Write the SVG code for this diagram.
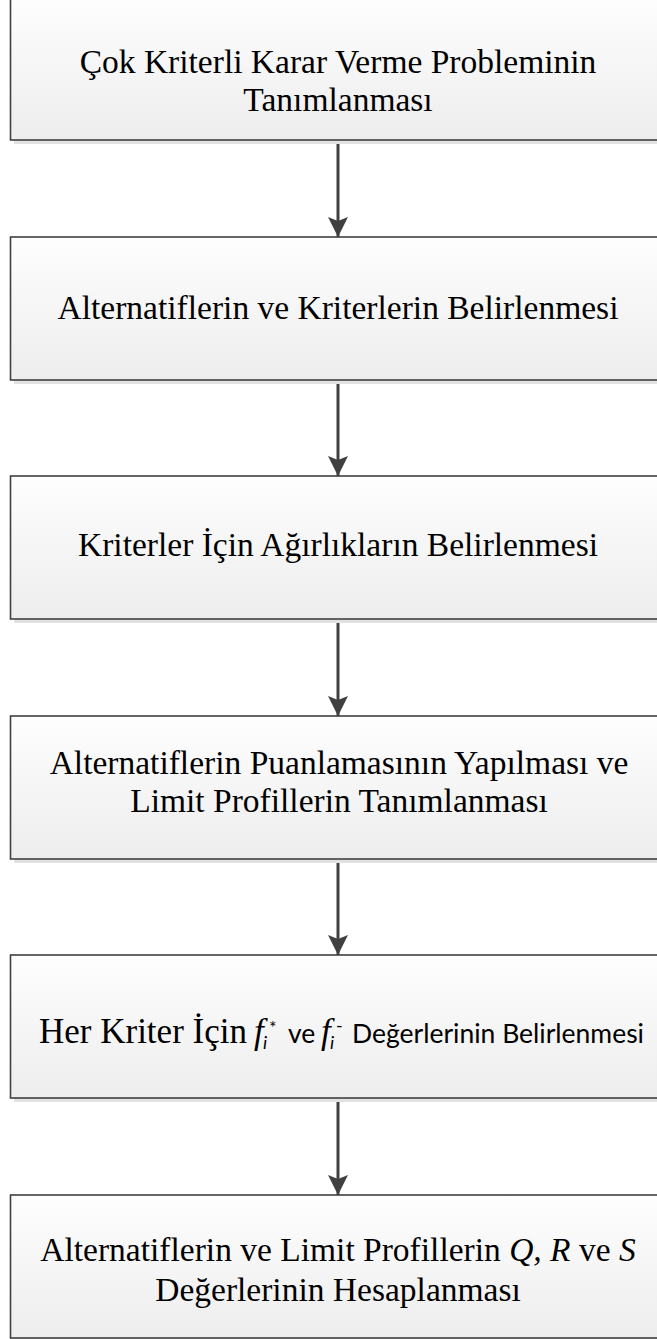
<svg xmlns="http://www.w3.org/2000/svg" width="657" height="1339" viewBox="0 0 657 1339">
<style>
.box{fill:url(#g);stroke:#404040;stroke-width:1.6}
.sh{fill:#e2e2e2}
.t{font-family:"Liberation Serif","Times New Roman",serif;font-size:33.5px;fill:#000;text-anchor:middle}
.s{font-family:"Lato","Liberation Sans",sans-serif;fill:#000}
.c{stroke:#404040;stroke-width:3;fill:none;marker-end:url(#ah)}
</style>
<defs>
<linearGradient id="g" x1="0" y1="0" x2="0" y2="1">
<stop offset="0" stop-color="#fefefe"/>
<stop offset="1" stop-color="#ededed"/>
</linearGradient>
<marker id="ah" markerUnits="userSpaceOnUse" viewBox="0 0 20 20" refX="20" refY="10" markerWidth="20" markerHeight="20" orient="auto">
<path d="M0,0 L20,10 L0,20 L4,10 Z" fill="#404040"/>
</marker>
</defs>
<g id="connectors">
<line class="c" x1="338" y1="141" x2="338" y2="237"/>
<line class="c" x1="338" y1="381" x2="338" y2="476"/>
<line class="c" x1="338" y1="620" x2="338" y2="716"/>
<line class="c" x1="338" y1="860" x2="338" y2="955"/>
<line class="c" x1="338" y1="1099" x2="338" y2="1195"/>
</g>
<g id="n1">
<rect class="sh" x="14" y="1" width="660" height="143"/>
<rect class="box" x="10.5" y="-3" width="660" height="143"/>
<text class="t" x="338" y="73">Çok Kriterli Karar Verme Probleminin</text>
<text class="t" x="338" y="111">Tanımlanması</text>
</g>
<g id="n2">
<rect class="sh" x="14" y="241" width="660" height="143"/>
<rect class="box" x="10.5" y="237" width="660" height="143"/>
<text class="t" x="338" y="319">Alternatiflerin ve Kriterlerin Belirlenmesi</text>
</g>
<g id="n3">
<rect class="sh" x="14" y="480" width="660" height="143"/>
<rect class="box" x="10.5" y="476" width="660" height="143"/>
<text class="t" x="338" y="556">Kriterler İçin Ağırlıkların Belirlenmesi</text>
</g>
<g id="n4">
<rect class="sh" x="14" y="720" width="660" height="143"/>
<rect class="box" x="10.5" y="716" width="660" height="143"/>
<text class="t" x="339" y="774">Alternatiflerin Puanlamasının Yapılması ve</text>
<text class="t" x="339" y="812">Limit Profillerin Tanımlanması</text>
</g>
<g id="n5">
<rect class="sh" x="14" y="959" width="660" height="143"/>
<rect class="box" x="10.5" y="955" width="660" height="143"/>
<text class="t" x="39" y="1043" style="text-anchor:start;font-size:35px">Her Kriter İçin</text>
<text class="t" x="254" y="1043" style="text-anchor:start;font-style:italic;font-size:35px">f</text>
<text class="s" x="263" y="1049" font-size="18" font-style="italic">i</text>
<text class="s" x="269" y="1034" font-size="18">*</text>
<text class="s" x="288" y="1043" font-size="26.5">ve</text>
<text class="t" x="321" y="1043" style="text-anchor:start;font-style:italic;font-size:35px">f</text>
<text class="s" x="330" y="1049" font-size="18" font-style="italic">i</text>
<text class="s" x="336" y="1032" font-size="18">-</text>
<text class="s" x="352" y="1043" font-size="26.5">Değerlerinin Belirlenmesi</text>
</g>
<g id="n6">
<rect class="sh" x="14" y="1199" width="660" height="143"/>
<rect class="box" x="10.5" y="1195" width="660" height="143"/>
<text class="t" x="338" y="1261">Alternatiflerin ve Limit Profillerin <tspan font-style="italic">Q,</tspan> <tspan font-style="italic">R</tspan> ve <tspan font-style="italic">S</tspan></text>
<text class="t" x="338" y="1301">Değerlerinin Hesaplanması</text>
</g>
</svg>
